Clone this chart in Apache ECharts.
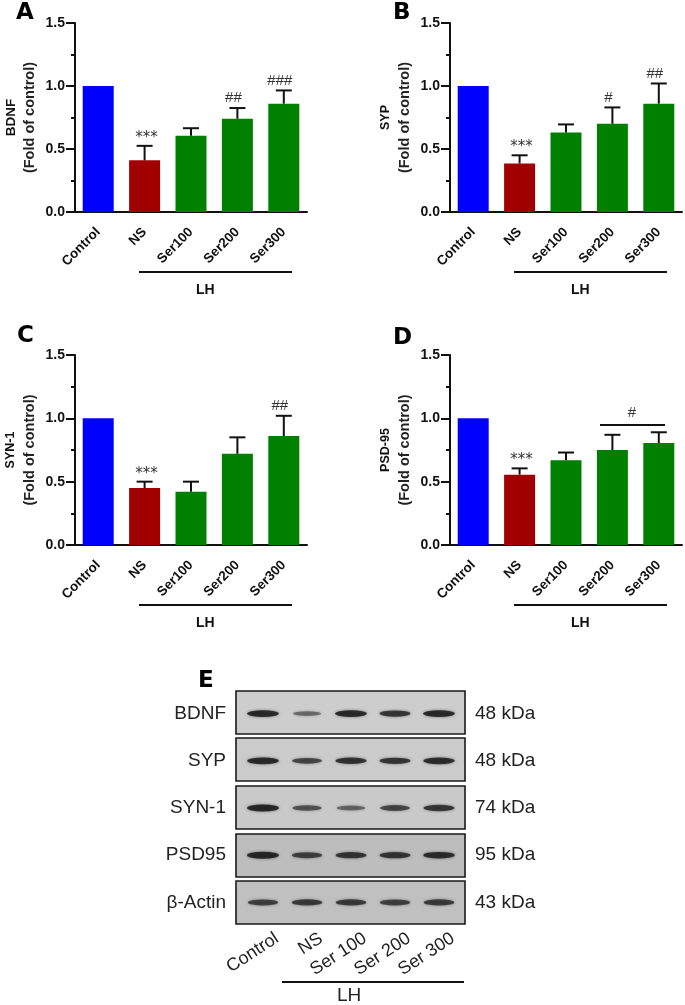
<!DOCTYPE html>
<html><head><meta charset="utf-8">
<style>html,body{margin:0;padding:0;background:#fff}#c{width:685px;height:1005px}</style>
<script src="https://cdn.jsdelivr.net/npm/echarts@6/dist/echarts.min.js"></script>
</head><body><div id="c"></div>
<script>
const categories = ['Control','NS','Ser100','Ser200','Ser300'];
const barColors = ['#0000ff','#a00000','#008000','#008000','#008000'];
const meansA = [1,0.41,0.605,0.74,0.86];
const topsA  = [null,0.525,0.665,0.825,0.965];
const marksA = ['','***','','##','###'];
const meansB = [1,0.385,0.63,0.70,0.86];
const topsB  = [null,0.45,0.695,0.83,1.02];
const marksB = ['','***','','#','##'];
const meansC = [1,0.45,0.42,0.72,0.86];
const topsC  = [null,0.50,0.50,0.85,1.02];
const marksC = ['','***','','','##'];
const meansD = [1,0.555,0.67,0.75,0.805];
const topsD  = [null,0.605,0.73,0.87,0.89];
const marksD = ['','***','','',''];
const blotLanes = ['Control','NS','Ser 100','Ser 200','Ser 300'];
const blotRows = ['BDNF','SYP','SYN-1','PSD95','β-Actin'];
const blotKDa = ['48 kDa','48 kDa','74 kDa','95 kDa','43 kDa'];
const bandBDNF = [0.95,0.35,0.95,0.8,0.95];
const bandSYP  = [0.95,0.65,0.85,0.8,0.9];
const bandSYN  = [0.98,0.55,0.4,0.65,0.8];
const bandPSD  = [0.98,0.7,0.8,0.8,0.9];
const bandActin= [0.7,0.75,0.75,0.7,0.75];
const bands = [bandBDNF,bandSYP,bandSYN,bandPSD,bandActin];

const FONT = '"Liberation Sans",Arial,sans-serif';
const LETTER = 'bold 23px "DejaVu Sans"';
const INK = '#111';
const panels = [
 {key:'A',left:75,top:23,height:189,means:meansA,tops:topsA,marks:marksA,name:'BDNF',letter:[16,2]},
 {key:'B',left:450,top:23,height:189,means:meansB,tops:topsB,marks:marksB,name:'SYP',letter:[393,2]},
 {key:'C',left:75,top:355,height:190,means:meansC,tops:topsC,marks:marksC,name:'SYN-1',letter:[17,325]},
 {key:'D',left:450,top:355,height:190,means:meansD,tops:topsD,marks:marksD,name:'PSD-95',letter:[393,327]}
];
const W = 232;
const grids=[],xAxes=[],yAxes=[],series=[],graphic=[];
panels.forEach((p,i)=>{
  grids.push({left:p.left,top:p.top,width:W,height:p.height,containLabel:false});
  xAxes.push({type:'category',gridIndex:i,data:categories,
    axisLine:{lineStyle:{color:INK,width:2}},
    axisTick:{alignWithLabel:true,length:8,lineStyle:{color:INK,width:2}},
    axisLabel:{rotate:45,margin:18,interval:0,color:INK,fontFamily:FONT,fontWeight:'bold',fontSize:13.5}});
  yAxes.push({type:'value',gridIndex:i,min:0,max:1.5,interval:0.5,
    name:'{a|'+p.name+'}\n{b|(Fold of control)}',nameLocation:'middle',nameRotate:90,nameGap:37,
    nameTextStyle:{rich:{a:{fontFamily:FONT,fontWeight:'bold',fontSize:p.key==='A'?13.5:12.5,color:INK,lineHeight:22},
                         b:{fontFamily:FONT,fontSize:14.5,fontWeight:'bold',color:'#222',lineHeight:16}}},
    splitLine:{show:false},
    axisLine:{show:true,lineStyle:{color:INK,width:2}},
    axisTick:{show:true,length:9,lineStyle:{color:INK,width:2}},
    minorTick:{show:true,splitNumber:2,length:4,lineStyle:{color:INK,width:2}},
    minorSplitLine:{show:false},
    axisLabel:{margin:10,color:INK,fontFamily:FONT,fontWeight:'bold',fontSize:14,formatter:v=>v.toFixed(1)}});
  series.push({type:'bar',xAxisIndex:i,yAxisIndex:i,barWidth:31,z:2,
    data:p.means.map((v,k)=>({value:v,itemStyle:{color:barColors[k]}}))});
  series.push({type:'custom',xAxisIndex:i,yAxisIndex:i,z:3,clip:false,
    data:p.means.map((v,k)=>[k,v,p.tops[k]==null?v:p.tops[k],k]),
    renderItem:(params,api)=>{
      const k=api.value(3),base=api.coord([api.value(0),api.value(1)]),top=api.coord([api.value(0),api.value(2)]);
      const kids=[];
      const ls={stroke:INK,lineWidth:2};
      if(p.tops[k]!=null){
        kids.push({type:'line',shape:{x1:base[0],y1:base[1],x2:top[0],y2:top[1]},style:ls});
        kids.push({type:'line',shape:{x1:top[0]-8,y1:top[1],x2:top[0]+8,y2:top[1]},style:ls});
      }
      const m=p.marks[k];
      if(m){
        const star=m[0]==='*';
        kids.push({type:'text',style:{x:top[0]+(star?2:-4),y:top[1]-(star?8:10),text:m,align:'center',verticalAlign:'middle',
          fill:'#333',font:(star?'15px "DejaVu Sans"':'15px '+FONT)}});
      }
      return {type:'group',children:kids};
    }});
  graphic.push({type:'text',left:p.letter[0],top:p.letter[1],z:10,
    style:{text:p.key,font:LETTER,fill:'#000'}});
  const bx=p.left+64,by=p.top+p.height+60;
  graphic.push({type:'line',shape:{x1:bx,y1:by,x2:bx+153,y2:by},style:{stroke:INK,lineWidth:2},z:10});
  graphic.push({type:'text',x:bx+57,y:by+11,z:10,style:{text:'LH',font:'bold 14px '+FONT,fill:INK}});
});
graphic.push({type:'line',shape:{x1:600,y1:425,x2:665,y2:425},style:{stroke:INK,lineWidth:2},z:10});
graphic.push({type:'text',x:632,y:413,z:10,style:{text:'#',align:'center',verticalAlign:'middle',font:'15px '+FONT,fill:'#333'}});

const blotBg=['#cdcdcd','#cbcbcb','#c9c9c9','#bdbdbd','#c0c0c0'];
const rowTop=[691,738,786,834,881];
blotRows.forEach((r,i)=>{
  graphic.push({type:'rect',z:0,shape:{x:236,y:rowTop[i],width:229,height:43},
    style:{fill:blotBg[i],stroke:'#1a1a1a',lineWidth:1.6}});
});
graphic.push({type:'text',left:198,top:670,z:10,style:{text:'E',font:LETTER,fill:'#000'}});
graphic.push({type:'line',shape:{x1:282,y1:982,x2:464,y2:982},style:{stroke:INK,lineWidth:2},z:10});
graphic.push({type:'text',x:337,y:986,z:10,style:{text:'LH',font:'19px '+FONT,fill:'#222'}});

const ei=panels.length;
grids.push({left:241,top:690,width:220,height:236});
xAxes.push({type:'category',gridIndex:ei,data:blotLanes,show:false});
yAxes.push({type:'category',gridIndex:ei,data:blotRows,inverse:true,position:'left',
  axisLine:{show:false},axisTick:{show:false},splitLine:{show:false},
  axisLabel:{margin:15,color:'#222',fontFamily:FONT,fontSize:19}});
yAxes.push({type:'category',gridIndex:ei,data:blotKDa,inverse:true,position:'right',
  axisLine:{show:false},axisTick:{show:false},splitLine:{show:false},
  axisLabel:{margin:14,color:'#222',fontFamily:FONT,fontSize:19}});
const bandData=[];
bands.forEach((row,r)=>row.forEach((s,l)=>bandData.push({value:[l,r],s})));
series.push({type:'scatter',xAxisIndex:ei,yAxisIndex:ei,z:2,silent:true,
  symbol:'circle',
  data:bandData.map(d=>({value:d.value,
    symbolSize:[26+6*d.s,3.5+3.5*d.s],
    itemStyle:{color:'rgba(15,15,15,'+(0.25+0.75*d.s).toFixed(2)+')',shadowBlur:3,shadowColor:'rgba(30,30,30,0.7)'}}))});
const li=ei+1;
grids.push({left:255,top:925,width:220,height:1});
xAxes.push({type:'category',gridIndex:li,data:blotLanes,
  axisLine:{show:false},axisTick:{show:false},
  axisLabel:{rotate:33,margin:11,interval:0,color:'#222',fontFamily:FONT,fontSize:18}});
yAxes.push({type:'value',gridIndex:li,show:false});

const chart=echarts.init(document.getElementById('c'),null,{renderer:'canvas'});
chart.setOption({animation:false,backgroundColor:'#fff',grid:grids,
  xAxis:xAxes,
  yAxis:yAxes,series,graphic:{elements:graphic}});
</script></body></html>
